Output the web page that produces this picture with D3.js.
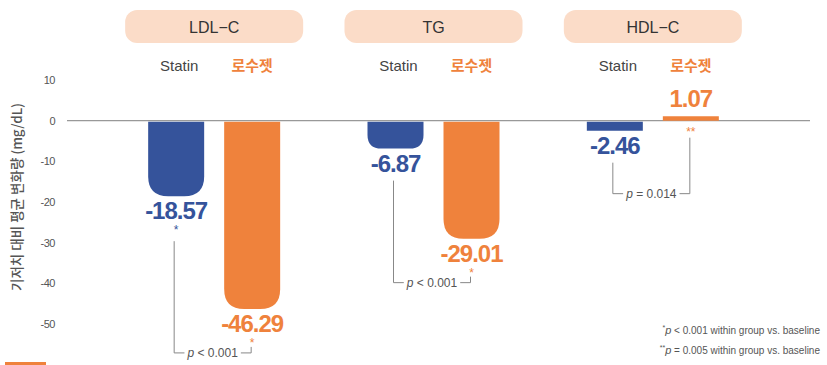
<!DOCTYPE html>
<html>

<head>
  <meta charset="utf-8">
  <title>LDL-C TG HDL-C</title>
  <script src="https://cdn.jsdelivr.net/npm/d3@7"></script>
  <style>
    body { margin: 0; background: #fff; }
    text { font-family: "Liberation Sans", Arial, "Noto Sans CJK KR", sans-serif; }
  </style>
</head>

<body>
  <svg width="827" height="365" id="mainsvg"></svg>
  <script>
    const groups = ['LDL−C', 'TG', 'HDL−C'];
    const series = ['Statin', '로수젯'];
    const statinValues = [-18.57, -6.87, -2.46];
    const rosuValues = [-46.29, -29.01, 1.07];
    const statinSig = ['*', '', ''];
    const rosuSig = ['*', '*', '**'];
    const pLabels = [['<', '0.001'], ['<', '0.001'], ['=', '0.014']];
    const yTicks = [10, 0, -10, -20, -30, -40, -50];
    const footnotes = [['*', '< 0.001 within group vs. baseline'], ['**', '= 0.005 within group vs. baseline']];

    const blue = '#35539b', orange = '#ef823c', grey = '#555';
    const svg = d3.select('#mainsvg');

    // 축 스케일
    const yScale = d3.scaleLinear().domain([-50, 10]).range([324, 80]);
    const xGroup = d3.scaleBand().domain(groups).range([104.5, 762.5]);
    const xInner = d3.scaleBand().domain(series).range([0, 132]).paddingInner(20 / 76);
    const barX = (g, s) => xGroup(g) + xGroup.bandwidth() / 2 - 66 + xInner(s);
    const barMid = (g, s) => barX(g, s) + xInner.bandwidth() / 2;
    const y0 = yScale(0);

    // y 눈금
    svg.append('g').selectAll('text').data(yTicks).join('text')
      .attr('x', 55).attr('y', d => yScale(d)).attr('dy', '0.35em')
      .attr('text-anchor', 'end').attr('font-size', 11).attr('fill', grey)
      .attr('letter-spacing', -0.5)
      .text(d => d);

    svg.append('line').attr('x1', 67).attr('x2', 810).attr('y1', y0).attr('y2', y0)
      .attr('stroke', '#999').attr('stroke-width', 1.2);

    svg.append('text')
      .attr('transform', `translate(22, 197) rotate(-90)`)
      .attr('text-anchor', 'middle').attr('font-size', 13.5).attr('fill', grey)
      .attr('font-weight', 500)
      .style('font-family', '"Noto Sans CJK KR", sans-serif')
      .text('기저치 대비 평균 변화량 (mg/dL)');

    // 머리 라벨
    const head = svg.append('g').selectAll('g').data(groups).join('g')
      .attr('transform', d => `translate(${xGroup(d) + xGroup.bandwidth() / 2}, 0)`);
    head.append('rect').attr('x', -89).attr('y', 10).attr('width', 178).attr('height', 33)
      .attr('rx', 12).attr('fill', '#fbdcc8');
    head.append('text').attr('y', 33).attr('text-anchor', 'middle')
      .attr('font-size', 16).attr('fill', '#333').text(d => d);

    groups.forEach(g => {
      series.forEach((s, i) => {
        svg.append('text').attr('x', barMid(g, s) + (i ? 0 : 3)).attr('y', 71)
          .attr('text-anchor', 'middle').attr('font-size', 15)
          .attr('font-weight', i ? 700 : 400)
          .attr('fill', i ? orange : '#444')
          .style('font-family', i ? '"Noto Sans CJK KR", sans-serif' : null)
          .text(s);
      });
    });

    // 막대 (아래쪽 둥근 모서리)
    const barPath = (x, w, v) => {
      const yv = yScale(v);
      if (v >= 0) return `M${x},${yv}H${x + w}V${y0}H${x}Z`;
      const h = yv - y0;
      const r = h < 15 ? 0 : Math.min(20, h / 2);
      return `M${x},${y0 + 1}H${x + w}V${yv - r}Q${x + w},${yv} ${x + w - r},${yv}` +
        `H${x + r}Q${x},${yv} ${x},${yv - r}Z`;
    };

    const rows = groups.map((g, i) => ({
      g, vals: [statinValues[i], rosuValues[i]], sig: [statinSig[i], rosuSig[i]], p: pLabels[i]
    }));

    rows.forEach(row => {
      const ends = [];
      series.forEach((s, j) => {
        const v = row.vals[j];
        const col = j ? orange : blue;
        const cx = barMid(row.g, s);
        svg.append('path').attr('d', barPath(barX(row.g, s), xInner.bandwidth(), v)).attr('fill', col);
        const yv = yScale(v);
        const lbl = svg.append('text').attr('x', cx).attr('text-anchor', 'middle')
          .attr('font-size', 24).attr('font-weight', 700).attr('letter-spacing', -1)
          .attr('fill', col).text(v.toFixed(2));
        let bottom;
        if (v < 0) {
          lbl.attr('y', yv + 23);
          bottom = yv + 23;
          if (row.sig[j]) {
            svg.append('text').attr('x', cx).attr('y', bottom + 15).attr('text-anchor', 'middle')
              .attr('font-size', 12).attr('fill', col).text(row.sig[j]);
            bottom += 13;
          }
        } else {
          lbl.attr('y', yv - 9);
          bottom = y0;
          if (row.sig[j]) {
            svg.append('text').attr('x', cx).attr('y', y0 + 15).attr('text-anchor', 'middle')
              .attr('font-size', 12).attr('fill', col).text(row.sig[j]);
            bottom = y0 + 8;
          }
        }
        ends.push({ x: cx - (j ? 1 : 2), top: bottom + 9 });
      });

      // p값 괄호
      const lowest = Math.max(...row.vals.map(v => yScale(v)));
      const by = Math.max(lowest + 44, y0 + 73);
      const br = svg.append('g').attr('stroke', '#888').attr('fill', 'none').attr('stroke-width', 1);
      br.append('line').attr('x1', ends[0].x).attr('x2', ends[0].x).attr('y1', ends[0].top).attr('y2', by);
      br.append('line').attr('x1', ends[1].x).attr('x2', ends[1].x).attr('y1', Math.min(ends[1].top, by - 6)).attr('y2', by);
      const mid = (ends[0].x + ends[1].x) / 2;
      const t = svg.append('text').attr('x', mid).attr('y', by).attr('dy', '0.35em')
        .attr('text-anchor', 'middle').attr('font-size', 12).attr('fill', grey);
      t.append('tspan').attr('font-style', 'italic').text('p');
      t.append('tspan').text(` ${row.p[0]} ${row.p[1]}`);
      const tw = t.node().getComputedTextLength();
      br.append('line').attr('x1', ends[0].x).attr('x2', mid - tw / 2 - 3).attr('y1', by).attr('y2', by);
      br.append('line').attr('x1', mid + tw / 2 + 3).attr('x2', ends[1].x).attr('y1', by).attr('y2', by);
    });

    // 각주
    svg.append('g').selectAll('text').data(footnotes).join('text')
      .attr('x', 820).attr('y', (d, i) => 334 + i * 20).attr('text-anchor', 'end')
      .attr('font-size', 10).attr('fill', grey)
      .each(function (d) {
        const el = d3.select(this);
        el.append('tspan').attr('font-size', 7).attr('dy', -4).text(d[0]);
        el.append('tspan').attr('font-style', 'italic').attr('dy', 4).attr('font-size', 11).text('p');
        el.append('tspan').text(' ' + d[1]);
      });

    svg.append('rect').attr('x', 5).attr('y', 362).attr('width', 41).attr('height', 3).attr('fill', orange);
  </script>
</body>

</html>
